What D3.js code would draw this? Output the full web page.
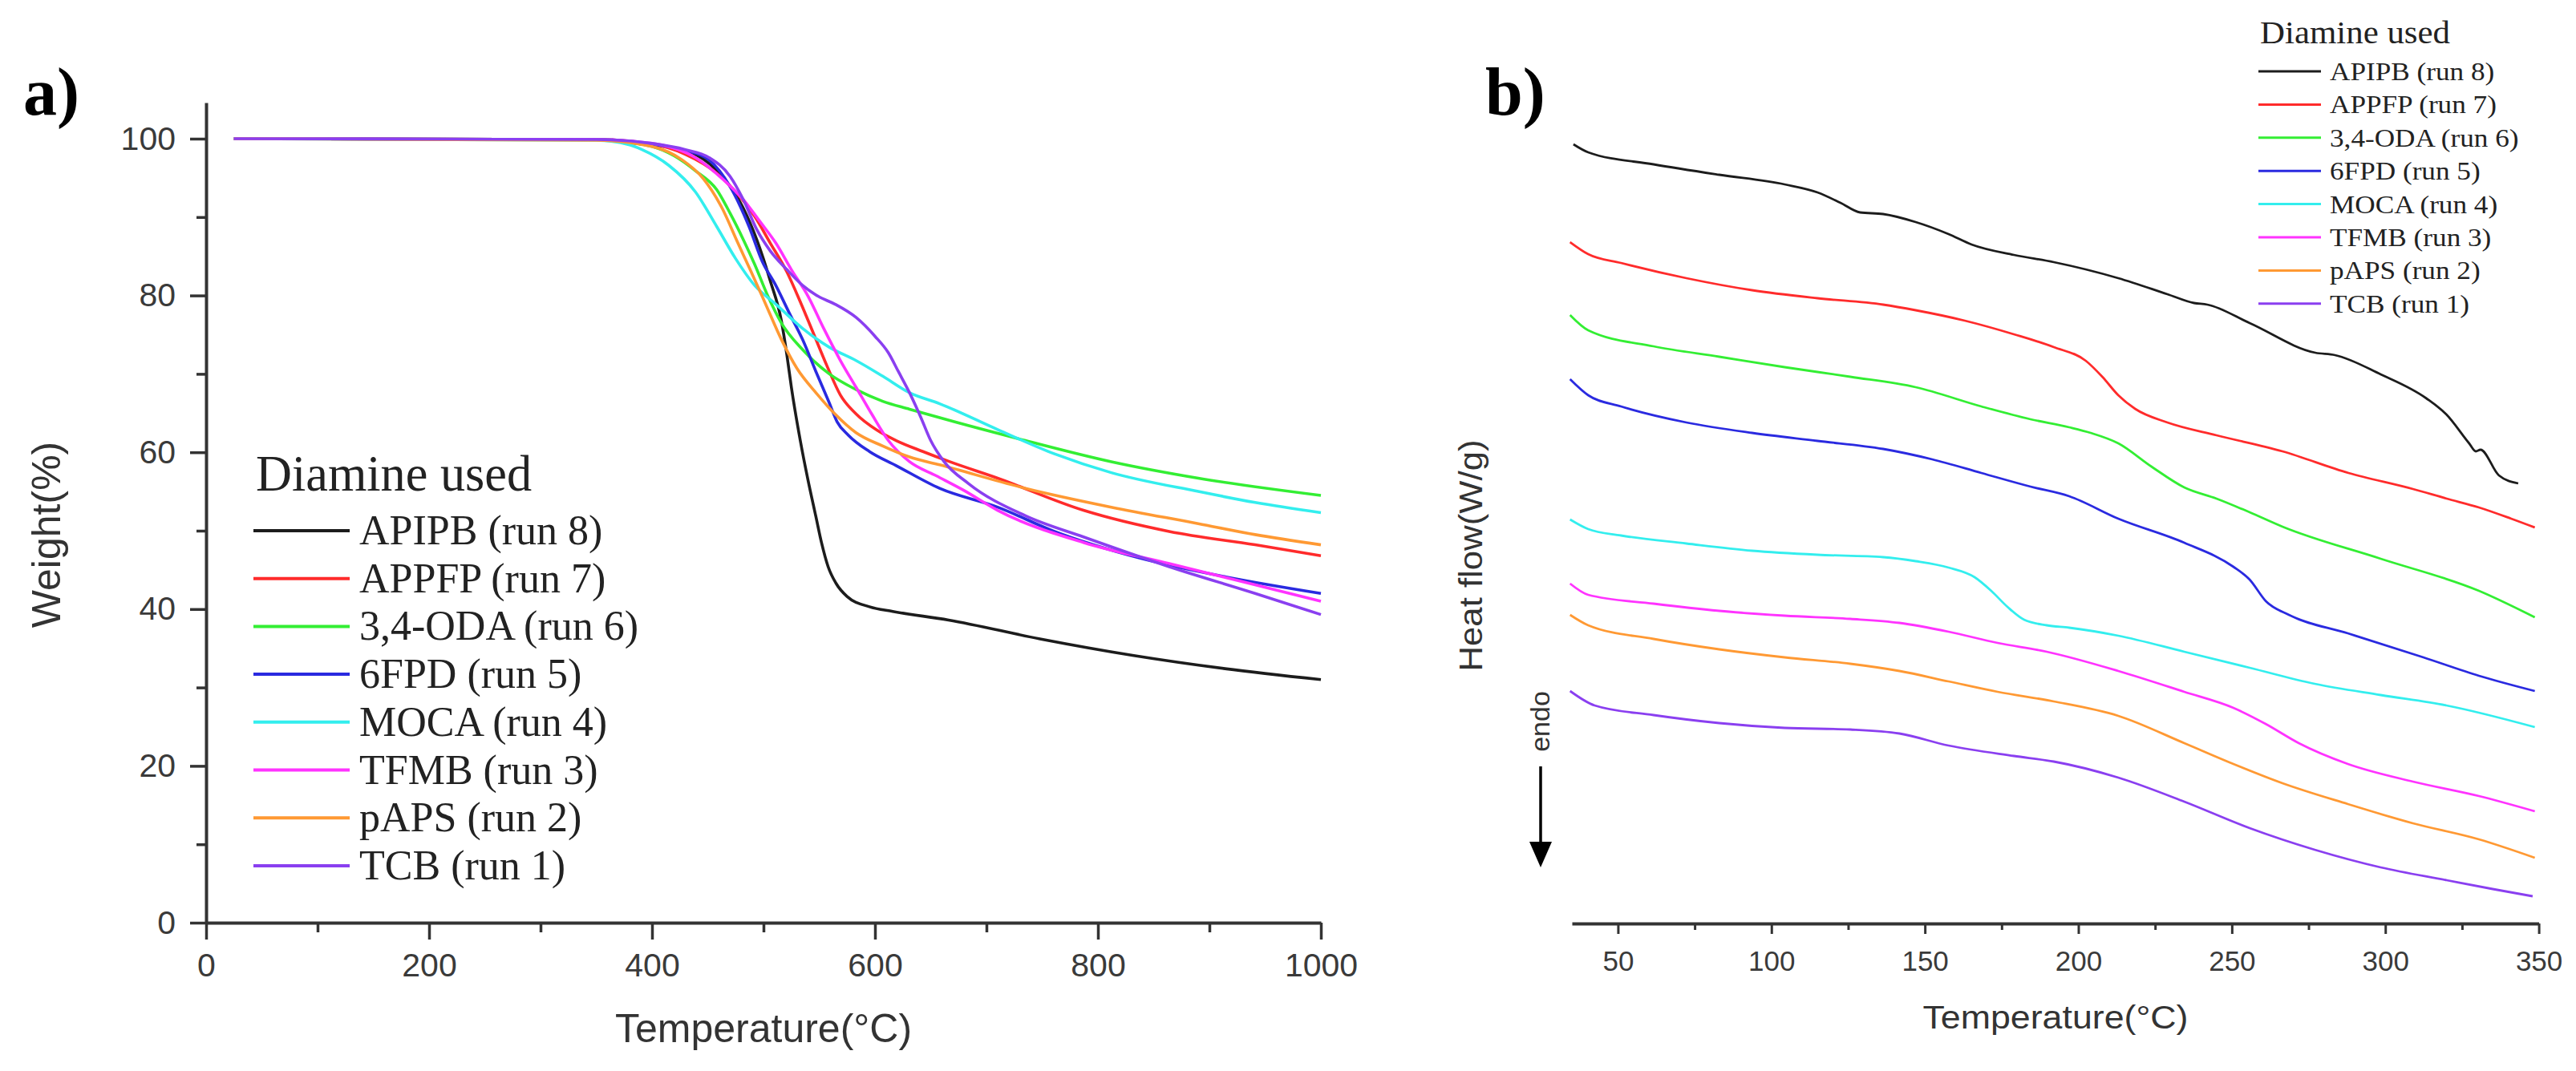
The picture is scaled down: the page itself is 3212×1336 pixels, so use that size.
<!DOCTYPE html>
<html><head><meta charset="utf-8">
<script src="https://cdn.jsdelivr.net/npm/d3@7"></script>
<style>body{margin:0;background:#fff}svg{display:block}</style>
</head><body>
<svg id="c" width="3212" height="1336"></svg>
<script>
// ---------- DATA ----------
const seriesNames = ["APIPB (run 8)","APPFP (run 7)","3,4-ODA (run 6)","6FPD (run 5)","MOCA (run 4)","TFMB (run 3)","pAPS (run 2)","TCB (run 1)"];
const seriesColors = ["#1c1c1c","#ff2b2b","#33ee33","#2a2ae0","#33eeee","#ff33ff","#ff9933","#8a3ff0"];

const tgaXTicks = [0,200,400,600,800,1000];
const tgaYTicks = [0,20,40,60,80,100];
const dscXTicks = [50,100,150,200,250,300,350];

// TGA: [temperature °C, weight %]
const tgaAPIPB = [[25,100],[350,99.9],[390,99.3],[420,98.8],[439,98.0],[463,95.2],[482,91.1],[494,87.1],[506,81.9],[516,76.8],[521,72.4],[525,68.3],[533,61.5],[540,56.4],[547,51.8],[552,48.5],[558,45.4],[565,43.3],[575,41.6],[595,40.3],[616,39.7],[666,38.6],[748,36.2],[831,34.1],[914,32.4],[1000,31.0]];
const tgaAPPFP = [[25,100],[350,99.9],[400,99.3],[430,98.0],[458,95.6],[477,92.9],[492,90.1],[506,86.7],[521,83.0],[533,79.2],[545,75.1],[557,71.0],[569,67.3],[583,64.9],[602,62.8],[619,61.5],[643,60.1],[667,58.8],[710,56.7],[787,52.6],[864,49.9],[941,48.2],[1000,46.8]];
const tgaODA = [[25,100],[350,99.9],[400,99.0],[420,97.8],[439,95.9],[458,93.5],[470,90.5],[482,87.1],[492,84.0],[504,79.9],[516,76.5],[535,73.1],[559,70.0],[583,68.0],[607,66.5],[631,65.5],[671,63.9],[735,61.5],[812,58.8],[890,56.7],[1000,54.5]];
const tga6FPD = [[25,100],[350,99.9],[400,99.3],[430,98.5],[451,97.3],[470,93.9],[487,88.8],[499,84.3],[511,81.3],[523,77.8],[535,74.4],[547,70.3],[559,66.3],[566,63.9],[576,62.2],[595,60.1],[619,58.3],[658,55.4],[710,53.0],[761,49.9],[838,46.5],[915,44.1],[1000,42.0]];
const tgaMOCA = [[25,100],[350,99.8],[380,99.2],[391,98.6],[415,96.6],[439,93.2],[458,88.8],[475,84.7],[492,81.3],[511,78.9],[535,75.8],[559,73.4],[583,71.7],[607,69.7],[631,67.6],[658,66.2],[710,62.9],[761,59.8],[812,57.4],[890,55.0],[941,53.6],[1000,52.3]];
const tgaTFMB = [[25,100],[350,99.9],[400,99.4],[440,97.5],[463,94.9],[482,92.2],[497,89.4],[511,86.7],[525,83.3],[540,79.9],[554,75.8],[569,71.7],[583,68.3],[597,64.9],[612,61.5],[631,58.8],[655,57.0],[679,55.2],[710,52.6],[787,48.5],[864,45.8],[941,43.1],[1000,41.0]];
const tgaPAPS = [[25,100],[350,99.8],[400,99.0],[427,97.3],[446,94.9],[463,91.1],[477,86.7],[489,83.0],[501,79.2],[516,74.4],[530,70.7],[547,67.6],[564,64.9],[583,62.5],[607,60.8],[631,59.4],[658,58.4],[735,55.4],[812,53.0],[890,50.9],[941,49.5],[1000,48.2]];
const tgaTCB = [[25,100],[350,99.9],[400,99.4],[430,98.6],[451,97.6],[470,95.2],[482,92.2],[494,88.4],[506,85.7],[521,83.3],[535,81.3],[549,79.9],[564,78.9],[583,77.2],[600,74.8],[612,72.7],[621,70.3],[631,67.6],[641,64.5],[650,61.5],[662,58.8],[684,56.0],[735,51.9],[787,49.2],[864,45.4],[941,42.0],[1000,39.3]];
const tgaSeries = [tgaAPIPB,tgaAPPFP,tgaODA,tga6FPD,tgaMOCA,tgaTFMB,tgaPAPS,tgaTCB];

// DSC: [temperature °C, heat flow (arbitrary, stacked offsets)]
const dscAPIPB = [[35.5,97.2],[40.3,96.2],[61.6,94.7],[83,93.4],[104.3,92.2],[115,91.2],[122.5,89.9],[128.9,88.7],[136.4,88.5],[147,87.5],[157.7,86.0],[165.2,84.7],[179,83.4],[192,82.5],[213,80.5],[229,78.5],[237.7,77.4],[242,77.2],[255.8,74.9],[277.2,71.2],[283.6,70.9],[298.5,68.5],[313.4,65.5],[319.9,63.5],[327.3,59.9],[329.5,58.9],[331,59.1],[337,55.9],[343.3,54.9]];
const dscAPPFP = [[34.4,85.0],[40.3,83.5],[51,82.4],[72.3,80.5],[93.7,79.0],[115,78.0],[136.4,77.2],[147,76.5],[163,75.2],[179,73.5],[192,71.9],[202.4,70.2],[207.8,68.2],[213,65.9],[218.5,64.2],[229,62.5],[245,60.9],[266.5,58.9],[288,56.2],[309,54.2],[320,53.0],[330.5,51.9],[341,50.5],[348.7,49.4]];
const dscODA = [[34.4,75.9],[40.3,74.0],[61.6,72.0],[83,70.7],[104.3,69.4],[125.7,68.2],[147,66.9],[168.4,64.5],[184.4,62.9],[197,61.9],[204,61.2],[213,59.9],[223.8,57.0],[234.5,54.4],[245,53.0],[255.8,51.3],[266.5,49.5],[298.5,45.5],[330.5,41.5],[348.7,38.2]];
const dsc6FPD = [[34.4,67.9],[40.3,65.9],[51,64.5],[72.3,62.5],[93.7,61.2],[115,60.2],[136.4,59.2],[152.4,57.9],[168.4,56.2],[184.4,54.5],[197,53.3],[213,50.5],[234.5,47.5],[250.5,44.5],[255.8,42.9],[261.1,40.2],[268.6,38.5],[287.8,36.2],[312.4,33.2],[330.5,30.9],[348.7,29.0]];
const dscMOCA = [[34.4,50.4],[40.3,49.2],[51,48.4],[72.3,47.4],[93.7,46.5],[115,46.0],[136.4,45.7],[147,45.2],[157.7,44.4],[166.2,43.2],[171.6,41.5],[176.9,39.5],[182.3,37.9],[189.7,37.2],[197,36.9],[213,35.9],[234.5,33.9],[255.8,31.9],[277,29.9],[298.5,28.5],[319.9,27.2],[348.7,24.5]];
const dscTFMB = [[34.4,42.4],[40.3,41.0],[61.6,39.9],[83,39.0],[104.3,38.4],[125.7,38.0],[141.7,37.5],[157.7,36.4],[173.7,35.0],[189.7,33.9],[213,31.5],[234.5,28.9],[250.5,26.9],[261,24.9],[271.8,22.5],[287.8,19.9],[309,17.7],[330.5,15.9],[348.7,14.0]];
const dscPAPS = [[34.4,38.5],[40.3,37.2],[61.6,35.5],[83,34.2],[104.3,33.2],[125.7,32.4],[141.7,31.5],[157.7,30.2],[173.7,28.9],[192,27.7],[213,25.9],[234.5,22.5],[250.5,19.9],[266.5,17.5],[287.8,14.9],[309,12.5],[330.5,10.5],[348.7,8.2]];
const dscTCB = [[34.4,29.0],[42.4,27.2],[61.6,26.0],[83,25.0],[104.3,24.4],[125.7,24.2],[141.7,23.7],[157.7,22.2],[179,20.9],[192,20.2],[213,18.2],[234.5,15.2],[255.8,11.9],[277,9.2],[298.5,7.0],[320,5.4],[335,4.3],[348,3.4]];
const dscSeries = [dscAPIPB,dscAPPFP,dscODA,dsc6FPD,dscMOCA,dscTFMB,dscPAPS,dscTCB];

// ---------- DRAW ----------
const svg = d3.select("#c");
svg.append("rect").attr("width",3212).attr("height",1336).attr("fill","#fff");
const AX = "#333";
const sans = "'Liberation Sans', Arial, sans-serif";
const serif = "'Liberation Serif', 'Times New Roman', serif";

// ===== Panel a (TGA) =====
const xA = d3.scaleLinear().domain([0,1000]).range([257,1647]);
const yA = d3.scaleLinear().domain([0,104.6]).range([1151,128]);

// minor ticks
svg.append("g").attr("transform","translate(0,1151)")
  .call(d3.axisBottom(xA).tickValues([100,300,500,700,900]).tickSize(12).tickFormat("").tickSizeOuter(0))
  .call(g=>g.select(".domain").remove());
svg.append("g").attr("transform","translate(257,0)")
  .call(d3.axisLeft(yA).tickValues([10,30,50,70,90]).tickSize(12).tickFormat("").tickSizeOuter(0))
  .call(g=>g.select(".domain").remove());
// major
const gxA = svg.append("g").attr("transform","translate(0,1151)")
  .call(d3.axisBottom(xA).tickValues(tgaXTicks).tickFormat(d3.format("d")).tickSize(21).tickPadding(17).tickSizeOuter(0));
const gyA = svg.append("g").attr("transform","translate(257,0)")
  .call(d3.axisLeft(yA).tickValues(tgaYTicks).tickFormat(d3.format("d")).tickSize(20).tickPadding(18).tickSizeOuter(0));
[gxA,gyA].forEach(g=>{
  g.selectAll("text").attr("font-family",sans).attr("font-size",41).attr("fill","#3a3a3a");
});
svg.selectAll(".tick line").attr("stroke",AX).attr("stroke-width",3.5);
svg.selectAll(".domain").attr("stroke",AX).attr("stroke-width",4);

const lineA = d3.line().x(d=>xA(d[0])).y(d=>yA(d[1])).curve(d3.curveMonotoneX);
svg.append("g").selectAll("path").data(tgaSeries).join("path")
  .attr("d",lineA).attr("fill","none")
  .attr("stroke",(d,i)=>seriesColors[i]).attr("stroke-width",3.6).attr("stroke-linejoin","round");

svg.append("text").attr("x",952).attr("y",1300).attr("text-anchor","middle")
  .attr("font-family",sans).attr("font-size",50).attr("fill","#333").text("Temperature(°C)");
svg.append("text").attr("transform","translate(75,667) rotate(-90)").attr("text-anchor","middle")
  .attr("font-family",sans).attr("font-size",50).attr("fill","#333").text("Weight(%)");
svg.append("text").attr("x",29).attr("y",143).attr("font-family",serif).attr("font-weight","bold")
  .attr("font-size",84).attr("fill","#000").text("a)");

// legend a
svg.append("text").attr("x",319).attr("y",612).attr("font-family",serif).attr("font-size",64)
  .attr("textLength",344).attr("lengthAdjust","spacingAndGlyphs").attr("fill","#222").text("Diamine used");
const legA = svg.append("g").selectAll("g").data(seriesNames).join("g")
  .attr("transform",(d,i)=>`translate(0,${662 + i*59.7})`);
legA.append("line").attr("x1",316).attr("x2",436).attr("y1",0).attr("y2",0)
  .attr("stroke",(d,i)=>seriesColors[i]).attr("stroke-width",4);
legA.append("text").attr("x",448).attr("y",17).attr("font-family",serif).attr("font-size",52)
  .attr("fill","#222").text(d=>d);

// ===== Panel b (DSC) =====
const xB = d3.scaleLinear().domain([35,350]).range([1960,3165.6]);
const yB = d3.scaleLinear().domain([0,100]).range([1152,152]);

svg.append("g").attr("transform","translate(0,1152)")
  .call(d3.axisBottom(xB).tickValues([75,125,175,225,275,325]).tickSize(8).tickFormat("").tickSizeOuter(0))
  .call(g=>g.select(".domain").remove())
  .call(g=>g.selectAll(".tick line").attr("stroke",AX).attr("stroke-width",3));
const gxB = svg.append("g").attr("transform","translate(0,1152)")
  .call(d3.axisBottom(xB).tickValues(dscXTicks).tickFormat(d3.format("d")).tickSize(13).tickPadding(21).tickSizeOuter(0));
gxB.select(".domain").attr("stroke",AX).attr("stroke-width",4);
gxB.selectAll(".tick line").attr("stroke",AX).attr("stroke-width",3);
gxB.selectAll("text").attr("font-family",sans).attr("font-size",35).attr("fill","#3a3a3a");

const lineB = d3.line().x(d=>xB(d[0])).y(d=>yB(d[1])).curve(d3.curveMonotoneX);
svg.append("g").selectAll("path").data(dscSeries).join("path")
  .attr("d",lineB).attr("fill","none")
  .attr("stroke",(d,i)=>seriesColors[i]).attr("stroke-width",2.8).attr("stroke-linejoin","round");

svg.append("text").attr("x",2563).attr("y",1283).attr("text-anchor","middle")
  .attr("font-family",sans).attr("font-size",41).attr("textLength",331).attr("lengthAdjust","spacingAndGlyphs")
  .attr("fill","#333").text("Temperature(°C)");
svg.append("text").attr("transform","translate(1848,693) rotate(-90)").attr("text-anchor","middle")
  .attr("font-family",sans).attr("font-size",40).attr("textLength",289).attr("lengthAdjust","spacingAndGlyphs")
  .attr("fill","#333").text("Heat flow(W/g)");
svg.append("text").attr("transform","translate(1932,900) rotate(-90)").attr("text-anchor","middle")
  .attr("font-family",sans).attr("font-size",34).attr("fill","#333").text("endo");
// endo arrow
svg.append("line").attr("x1",1921).attr("x2",1921).attr("y1",956).attr("y2",1054)
  .attr("stroke","#000").attr("stroke-width",3.5);
svg.append("path").attr("d","M1907,1050 L1935,1050 L1921,1082 Z").attr("fill","#000");
svg.append("text").attr("x",1852).attr("y",143).attr("font-family",serif).attr("font-weight","bold")
  .attr("font-size",84).attr("fill","#000").text("b)");

// legend b
svg.append("text").attr("x",2818).attr("y",54).attr("font-family",serif).attr("font-size",41)
  .attr("textLength",237).attr("lengthAdjust","spacingAndGlyphs").attr("fill","#222").text("Diamine used");
const legB = svg.append("g").selectAll("g").data(seriesNames).join("g")
  .attr("transform",(d,i)=>`translate(0,${89 + i*41.4})`);
legB.append("line").attr("x1",2816).attr("x2",2894).attr("y1",0).attr("y2",0)
  .attr("stroke",(d,i)=>seriesColors[i]).attr("stroke-width",3);
legB.append("text").attr("transform","translate(2905,11) scale(1.1,1)").attr("font-family",serif)
  .attr("font-size",32).attr("fill","#222").text(d=>d);
</script>
</body></html>
